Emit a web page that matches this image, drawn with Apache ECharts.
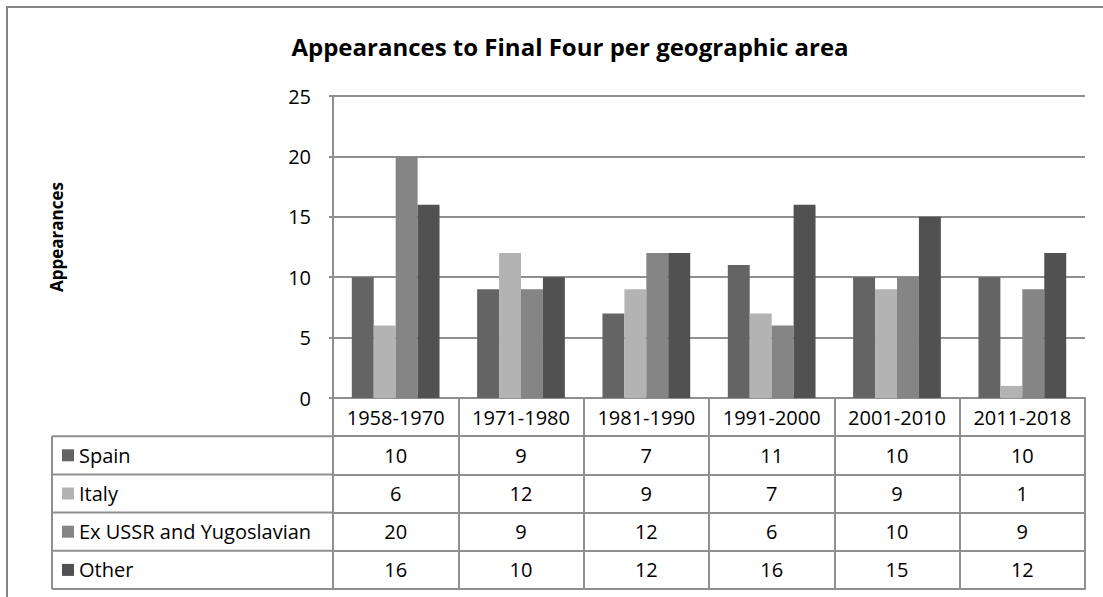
<!DOCTYPE html>
<html>
<head>
<meta charset="utf-8">
<script src="https://cdn.jsdelivr.net/npm/echarts@6/dist/echarts.min.js"></script>
<style>
html,body{margin:0;padding:0;background:#fff;}
#chart{width:1103px;height:597px;}
</style>
</head>
<body>
<div id="chart"></div>
<script>
const categories = ['1958-1970', '1971-1980', '1981-1990', '1991-2000', '2001-2010', '2011-2018'];
const seriesNames = ['Spain', 'Italy', 'Ex USSR and Yugoslavian', 'Other'];
const spain = [10, 9, 7, 11, 10, 10];
const italy = [6, 12, 9, 7, 9, 1];
const exUssr = [20, 9, 12, 6, 10, 9];
const other = [16, 10, 12, 16, 15, 12];
const seriesValues = [spain, italy, exUssr, other];
const seriesColors = ['#646464', '#b3b3b3', '#858585', '#515151'];

const FONT = 'Open Sans';
const LINE = '#8f8f8f';
const FS = 20;
const gridLeft = 333, gridRight = 1085, gridTop = 96, gridBottom = 398;
const rowH = 38.2;
const tableLeft = 52;

const xAxes = [{
  type: 'category', data: categories, gridIndex: 0, position: 'bottom',
  axisLine: { show: true, lineStyle: { color: LINE, width: 2 } },
  axisTick: { show: true, interval: 0, length: rowH * 5, lineStyle: { color: LINE, width: 2 } },
  axisLabel: { interval: 0, hideOverlap: false, margin: rowH / 2, verticalAlign: 'middle', fontFamily: FONT, fontSize: FS, color: '#000' }
}];
seriesValues.forEach((vals, i) => {
  xAxes.push({
    type: 'category', data: categories, gridIndex: 0, position: 'bottom', offset: rowH * (i + 1),
    axisLine: { show: true, lineStyle: { color: LINE, width: 2 } },
    axisTick: { show: false },
    axisLabel: { interval: 0, hideOverlap: false, margin: rowH / 2, verticalAlign: 'middle', fontFamily: FONT, fontSize: FS, color: '#000',
      formatter: (v, idx) => String(vals[idx]) }
  });
});
xAxes.push({
  type: 'category', data: categories, gridIndex: 0, position: 'bottom', offset: rowH * 5,
  axisLine: { show: true, lineStyle: { color: LINE, width: 2 } },
  axisTick: { show: false }, axisLabel: { show: false }
});

const graphics = [
  { type: 'rect', shape: { x: 7, y: 7, width: 1200, height: 700 }, style: { fill: 'none', stroke: '#868686', lineWidth: 2 }, silent: true },
  { type: 'line', shape: { x1: tableLeft, y1: gridBottom + rowH, x2: tableLeft, y2: gridBottom + rowH * 5 }, style: { stroke: LINE, lineWidth: 2 } }
];
for (let i = 1; i <= 5; i++) {
  graphics.push({ type: 'line', shape: { x1: tableLeft, y1: gridBottom + rowH * i, x2: gridLeft, y2: gridBottom + rowH * i }, style: { stroke: LINE, lineWidth: 2 } });
}

const chart = echarts.init(document.getElementById('chart'), null, { renderer: 'svg' });
chart.setOption({
  animation: false,
  backgroundColor: '#fff',
  title: {
    text: 'Appearances to Final Four per geographic area',
    left: 565, textAlign: 'center', top: 29,
    textStyle: { fontFamily: FONT, fontSize: 24, fontWeight: 'bold', color: '#000' }
  },
  legend: {
    orient: 'vertical', left: 62, top: gridBottom + rowH + rowH / 2 - 10, padding: 0,
    itemWidth: 12, itemHeight: 12, itemGap: rowH - 20, icon: 'rect',
    selectedMode: false,
    textStyle: { fontFamily: FONT, fontSize: FS, color: '#000', lineHeight: 20 },
    data: seriesNames
  },
  grid: { left: gridLeft, right: 1103 - gridRight, top: gridTop, bottom: 597 - gridBottom, containLabel: false },
  xAxis: xAxes,
  yAxis: {
    type: 'value', min: 0, max: 25, interval: 5,
    name: 'Appearances', nameLocation: 'middle', nameRotate: 90, nameGap: 268,
    nameTextStyle: { fontFamily: FONT, fontSize: 17, fontWeight: 'bold', color: '#000', padding: [0, 0, 0, 20] },
    axisLine: { show: true, lineStyle: { color: LINE, width: 2 } },
    axisTick: { show: true, length: 4, lineStyle: { color: LINE, width: 2 } },
    axisLabel: { margin: 22, fontFamily: FONT, fontSize: FS, color: '#000' },
    splitLine: { show: true, lineStyle: { color: LINE, width: 2 } }
  },
  series: seriesNames.map((name, i) => ({
    name: name, type: 'bar', data: seriesValues[i],
    xAxisIndex: 0, yAxisIndex: 0,
    barGap: '0%', barCategoryGap: '30%',
    itemStyle: { color: seriesColors[i] }
  })),
  graphic: graphics
});
</script>
</body>
</html>
